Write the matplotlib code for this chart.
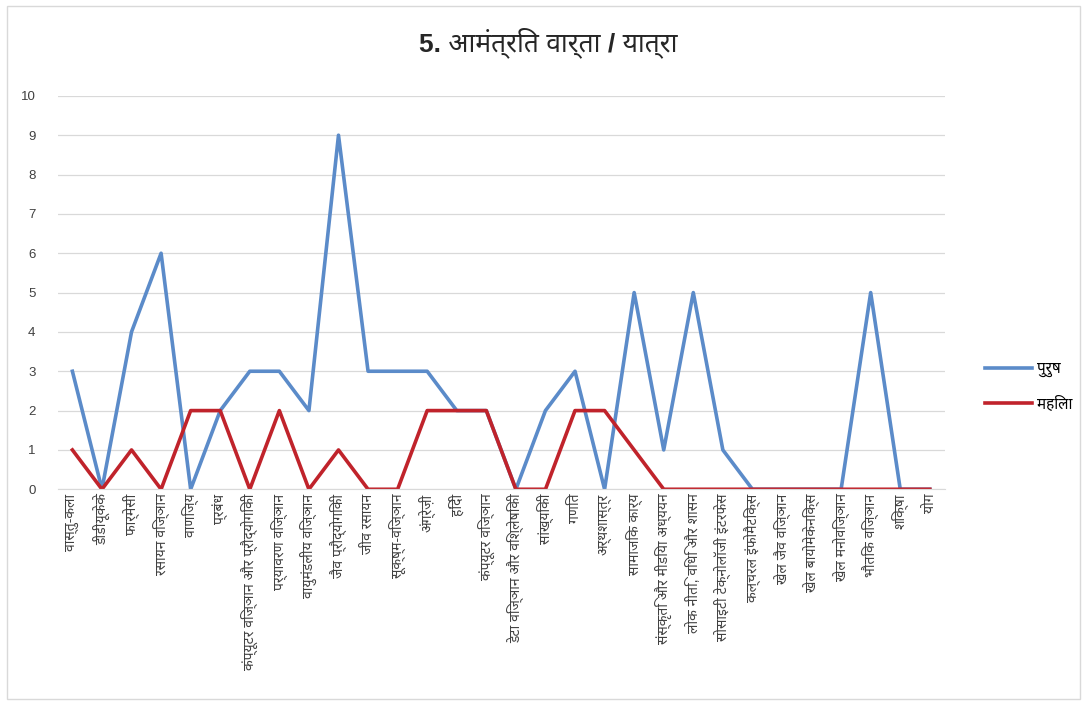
import numpy as np
import matplotlib.pyplot as plt
from matplotlib import font_manager
from matplotlib.ft2font import FT2Font

categories = ['वास्तु-कला', 'डीडीयूकेके', 'फार्मेसी', 'रसायन विज्ञान', 'वाणिज्य', 'प्रबंध',
              'कंप्यूटर विज्ञान और प्रौद्योगिकी', 'पर्यावरण विज्ञान', 'वायुमंडलीय विज्ञान',
              'जैव प्रौद्योगिकी', 'जीव रसायन', 'सूक्ष्म-विज्ञान', 'अंग्रेज़ी', 'हिंदी',
              'कंप्यूटर विज्ञान', 'डेटा विज्ञान और विश्लेषिकी', 'सांख्यिकी', 'गणित',
              'अर्थशास्त्र', 'सामाजिक कार्य', 'संस्कृति और मीडिया अध्ययन',
              'लोक नीति, विधि और शासन', 'सोसाइटी टेक्नोलॉजी इंटरफेस', 'कल्चरल इंफोमैटिक्स',
              'खेल जैव विज्ञान', 'खेल बायोमेकेनिक्स', 'खेल मनोविज्ञान', 'भौतिक विज्ञान',
              'शिक्षा', 'योग']
male = [3, 0, 4, 6, 0, 2, 3, 3, 2, 9, 3, 3, 3, 2, 2, 0, 2, 3, 0, 5, 1, 5, 1, 0, 0, 0, 0, 5, 0, 0]
female = [1, 0, 1, 0, 2, 2, 0, 2, 0, 1, 0, 0, 2, 2, 2, 0, 0, 2, 2, 1, 0, 0, 0, 0, 0, 0, 0, 0, 0, 0]


# pick an installed font that has Devanagari glyphs, preferring plain sans faces
def find_deva():
    found = []
    for f in font_manager.fontManager.ttflist:
        try:
            if 0x0915 in FT2Font(f.fname).get_charmap():
                found.append(f.name)
        except Exception:
            pass
    for pref in ['Noto Sans Devanagari', 'Hind', 'Mukta', 'Poppins', 'FreeSans']:
        if pref in found:
            return pref
    return found[0] if found else None

deva = find_deva()
fams = ['Liberation Sans'] + ([deva] if deva else []) + ['DejaVu Sans']
plt.rcParams['font.family'] = fams

fig = plt.figure(figsize=(10.87, 7.05), dpi=100)
ax = fig.add_axes([0.053, 0.306, 0.816, 0.558])

x = np.arange(len(categories))
ax.plot(x, male, color='#5B8BC9', lw=2.6, label='पुरुष', solid_joinstyle='round')
ax.plot(x, female, color='#C0232B', lw=2.6, label='महिला', solid_joinstyle='round')

ax.set_ylim(0, 10)
ax.set_yticks(range(0, 11))
ax.set_xlim(-0.5, len(categories) - 0.5)
ax.set_xticks(x)
ax.set_xticklabels(categories, rotation=90, fontsize=10, color='#404040')
ax.tick_params(axis='y', labelsize=9.5, colors='#404040', length=0, pad=16)
ax.tick_params(axis='x', length=0, pad=3)
ax.grid(axis='y', color='#D9D9D9', lw=0.9)
ax.set_axisbelow(True)
for s in ['top', 'right', 'left']:
    ax.spines[s].set_visible(False)
ax.spines['bottom'].set_color('#D9D9D9')

fig.text(0.504, 0.94, '5. आमंत्रित वार्ता / यात्रा', ha='center', va='center',
         fontsize=19, fontweight='bold', color='#262626')

ax.legend(loc='center left', bbox_to_anchor=(1.03, 0.26), frameon=False,
          fontsize=11, handlelength=3.1, labelspacing=1.2, handletextpad=0.3)

fig.patches.append(plt.Rectangle((0.006, 0.008), 0.988, 0.984, transform=fig.transFigure,
                                 fill=False, edgecolor='#D9D9D9', lw=1))

fig.savefig('out.png', dpi=100)
